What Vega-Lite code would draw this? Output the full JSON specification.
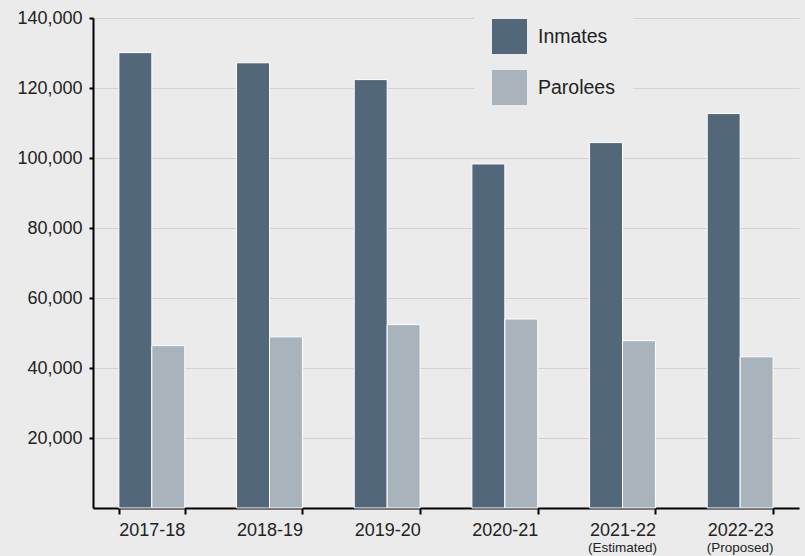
{
  "$schema": "https://vega.github.io/schema/vega-lite/v6.json",
  "width": 706,
  "height": 490,
  "autosize": {"type": "none"},
  "padding": {"left": 93, "top": 18, "right": 6, "bottom": 48},
  "background": "#ebebeb",
  "config": {
    "view": {"stroke": null, "fill": "#ebebeb"},
    "font": "Liberation Sans"
  },
  "datasets": {
    "bars": [
      {"year": "2017-18", "series": "Inmates", "value": 130100},
      {"year": "2017-18", "series": "Parolees", "value": 46400},
      {"year": "2018-19", "series": "Inmates", "value": 127200},
      {"year": "2018-19", "series": "Parolees", "value": 48900},
      {"year": "2019-20", "series": "Inmates", "value": 122400},
      {"year": "2019-20", "series": "Parolees", "value": 52400},
      {"year": "2020-21", "series": "Inmates", "value": 98300},
      {"year": "2020-21", "series": "Parolees", "value": 54000},
      {"year": "2021-22", "series": "Inmates", "value": 104400},
      {"year": "2021-22", "series": "Parolees", "value": 47800},
      {"year": "2022-23", "series": "Inmates", "value": 112700},
      {"year": "2022-23", "series": "Parolees", "value": 43200}
    ],
    "notes": [
      {"year": "2021-22", "note": "(Estimated)"},
      {"year": "2022-23", "note": "(Proposed)"}
    ]
  },
  "layer": [
    {
      "data": {"name": "bars"},
      "mark": {"type": "bar", "stroke": "white", "strokeWidth": 1},
      "encoding": {
        "x": {
          "field": "year",
          "type": "nominal",
          "sort": null,
          "scale": {"paddingInner": 0.44, "paddingOuter": 0.22},
          "axis": {
            "title": null,
            "labelAngle": 0,
            "labelFontSize": 18,
            "labelColor": "#222",
            "labelPadding": 7,
            "tickBand": "extent",
            "tickColor": "black",
            "tickWidth": 2,
            "tickSize": 6,
            "domainColor": "black",
            "domainWidth": 2,
            "grid": false
          }
        },
        "xOffset": {"field": "series", "type": "nominal", "sort": ["Inmates", "Parolees"], "scale": {"paddingInner": 0, "paddingOuter": 0}},
        "y": {
          "field": "value",
          "type": "quantitative",
          "scale": {"domain": [0, 140000], "nice": false},
          "axis": {
            "title": null,
            "values": [20000, 40000, 60000, 80000, 100000, 120000, 140000],
            "format": ",d",
            "labelFontSize": 18,
            "labelColor": "#222",
            "labelPadding": 7,
            "tickColor": "black",
            "tickWidth": 2,
            "tickSize": 4,
            "domainColor": "black",
            "domainWidth": 2,
            "gridColor": "#d2d2d2",
            "gridWidth": 1
          }
        },
        "color": {
          "field": "series",
          "type": "nominal",
          "scale": {"domain": ["Inmates", "Parolees"], "range": ["#526779", "#a9b3bc"]},
          "legend": {
            "title": null,
            "orient": "none",
            "legendX": 381,
            "legendY": -17,
            "fillColor": "#ebebeb",
            "padding": 18,
            "symbolType": "square",
            "symbolSize": 1225,
            "symbolStrokeWidth": 0,
            "symbolOpacity": 1,
            "labelFontSize": 19.5,
            "labelColor": "#222",
            "labelOffset": 11,
            "rowPadding": 16
          }
        }
      }
    },
    {
      "data": {"name": "notes"},
      "mark": {"type": "text", "fontSize": 13.5, "font": "Liberation Sans", "color": "#222", "baseline": "middle", "dy": 40},
      "encoding": {
        "x": {"field": "year", "type": "nominal", "sort": null},
        "y": {"datum": 0, "type": "quantitative"},
        "text": {"field": "note"}
      }
    }
  ]
}
